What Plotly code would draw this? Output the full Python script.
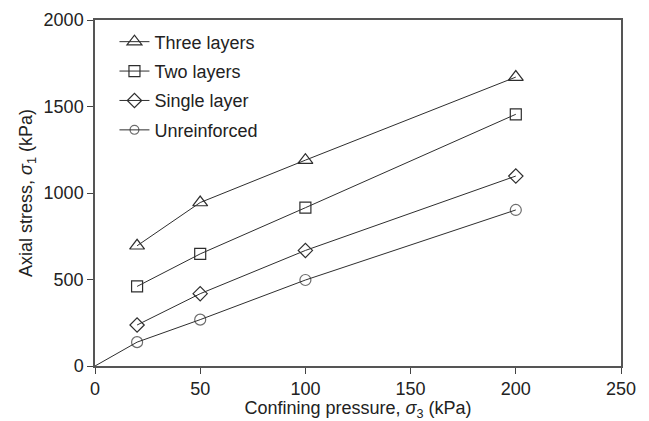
import plotly.graph_objects as go

x_pts = [20, 50, 100, 200]
x_unre = [0, 20, 50, 100, 200]
three_layers = [695, 945, 1190, 1670]
two_layers = [460, 648, 915, 1455]
single_layer = [237, 418, 668, 1098]
unreinforced = [0, 138, 268, 497, 902]

names = ["Three layers", "Two layers", "Single layer", "Unreinforced"]
LC = "#2e2e2e"
FONT = "Liberation Sans, Arial, sans-serif"

fig = go.Figure()
fig.add_trace(go.Scatter(x=x_pts, y=three_layers, name=names[0], mode="lines+markers", legendgroup="a",
                         line=dict(color=LC, width=1),
                         marker=dict(symbol="triangle-up-open", size=13, color=LC, line=dict(width=1.2))))
fig.add_trace(go.Scatter(x=x_pts, y=two_layers, name=names[1], mode="lines+markers", legendgroup="b",
                         line=dict(color=LC, width=1),
                         marker=dict(symbol="square-open", size=11, color=LC, line=dict(width=1.2))))
fig.add_trace(go.Scatter(x=x_pts, y=single_layer, name=names[2], mode="lines+markers", legendgroup="c",
                         line=dict(color=LC, width=1),
                         marker=dict(symbol="diamond-open", size=11, color=LC, line=dict(width=1.2))))
fig.add_trace(go.Scatter(x=x_unre, y=unreinforced, name=names[3], mode="lines+markers", legendgroup="d",
                         line=dict(color=LC, width=1),
                         marker=dict(symbol="circle-open", size=[0, 11, 11, 11, 11], color=LC, line=dict(width=1.2))))

fig.update_layout(
    width=649, height=421,
    margin=dict(l=95, r=28, t=20, b=55),
    paper_bgcolor="white", plot_bgcolor="white",
    font=dict(family=FONT, size=18, color="#222"),
    showlegend=True,
    legend=dict(x=0.037, y=0.99, xanchor="left", yanchor="top", bgcolor="rgba(0,0,0,0)",
                font=dict(size=18, family=FONT, color="#222"), tracegroupgap=3, itemwidth=30),
)
fig.update_xaxes(range=[0, 250], tickvals=[0, 50, 100, 150, 200, 250], ticks="outside", ticklen=6,
                 tickcolor="#444", showline=True, linecolor="#555", linewidth=1.5, mirror=True,
                 showgrid=False, zeroline=False, tickfont=dict(size=18), automargin=False,
                 title=dict(text="Confining pressure, <i>σ</i><sub>3</sub> (kPa)", font=dict(size=18), standoff=2))
fig.update_yaxes(range=[0, 2000], tickvals=[0, 500, 1000, 1500, 2000], ticks="outside", ticklen=6,
                 tickcolor="#444", showline=True, linecolor="#555", linewidth=1.5, mirror=True,
                 showgrid=False, zeroline=False, tickfont=dict(size=18), automargin=False,
                 title=dict(text="Axial stress, <i>σ</i><sub>1</sub> (kPa)", font=dict(size=18), standoff=6))

fig.write_html("out.html")
